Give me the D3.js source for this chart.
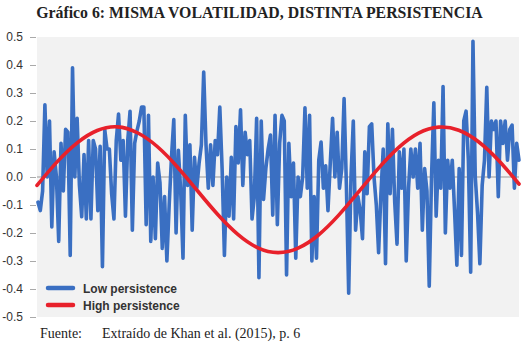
<!DOCTYPE html>
<html>
<head>
<meta charset="utf-8">
<script src="https://cdn.jsdelivr.net/npm/d3@7"></script>
<style>
  body { margin: 0; background: #fff; }
  svg { display: block; }
</style>
</head>
<body>
<div id="chart"></div>
<script>
// values
const yTicks = [0.5, 0.4, 0.3, 0.2, 0.1, 0.0, -0.1, -0.2, -0.3, -0.4, -0.5];

const lowPersistence = [
  -0.09, -0.12, -0.05, 0.258, 0.0, 0.2, -0.178, 0.09, 0.0, -0.23, 0.12, -0.05, 0.17, 0.16, -0.28, 0.39,
  0.0, 0.21, -0.03, -0.142, 0.08, -0.15, 0.13, -0.15, 0.13, 0.1, -0.12, 0.11, -0.32, 0.17, 0.1, 0.1,
  -0.06, -0.15, 0.13, 0.225, 0.06, 0.13, -0.14, 0.13, 0.235, -0.19, 0.12, 0.165, 0.2, 0.25, 0.25, -0.17,
  0.22, -0.23, 0.0, -0.22, 0.05, -0.02, -0.255, -0.07, -0.30, -0.1, 0.07, 0.205, -0.2, 0.095, -0.05, -0.29,
  0.22, -0.03, 0.115, -0.19, 0.07, -0.04, 0.05, 0.115, 0.375, 0.115, -0.04, 0.115, -0.03, 0.13, 0.08, 0.25,
  0.03, -0.28, 0.0, -0.14, 0.07, -0.15, 0.18, 0.05, 0.24, -0.03, 0.16, 0.08, 0.13, -0.15, -0.07, 0.21,
  -0.36, 0.2, -0.08, 0.03, 0.1, 0.15, -0.136, 0.22, -0.17, 0.12, 0.22, 0.2, -0.35, 0.12, -0.07, 0.05,
  -0.29, 0.0, -0.07, 0.0, 0.247, -0.04, 0.22, -0.3, -0.07, -0.29, 0.06, 0.125, -0.04, 0.04, -0.12, 0.05,
  0.21, 0.0, 0.16, -0.04, 0.03, 0.28, -0.03, -0.415, 0.0, 0.2, -0.19, -0.07, -0.12, -0.22, 0.09, -0.06,
  0.18, 0.19, 0.0, -0.1, -0.27, -0.06, 0.1, -0.31, 0.19, -0.06, 0.17, -0.09, -0.24, 0.09, -0.04, 0.1,
  -0.3, -0.04, 0.1, 0.0, 0.1, -0.04, 0.12, -0.19, 0.03, -0.05, -0.39, 0.0, 0.265, -0.14, 0.06, -0.04,
  0.323, -0.2, 0.06, -0.04, 0.06, -0.12, -0.315, 0.03, -0.28, 0.2, 0.235, 0.06, -0.34, 0.485, 0.0, -0.13,
  -0.31, -0.03, 0.06, 0.32, 0.0, 0.2, 0.17, 0.2, -0.07, 0.2, 0.12, 0.2, 0.06, 0.17, 0.185, -0.04,
  0.12, 0.06
];

const highPersistence = [
  -0.03, 0.054, 0.122, 0.166, 0.179, 0.158, 0.108, 0.035, -0.05, -0.134, -0.205, -0.253, -0.27,
  -0.254, -0.208, -0.138, -0.054, 0.031, 0.105, 0.157, 0.178, 0.167, 0.125, 0.058, -0.025
];

const seriesNames = ['Low persistence', 'High persistence'];
const seriesColors = ['#3a6fc2', '#e8212b'];

const W = 525, H = 361;
const plot = { left: 37, right: 519, top: 37, bottom: 317 };

const svg = d3.select('#chart').append('svg')
  .attr('width', W).attr('height', H);

// Title
svg.append('text')
  .attr('x', 259.5).attr('y', 17.5)
  .attr('text-anchor', 'middle')
  .attr('font-family', '"Liberation Serif", "Times New Roman", serif')
  .attr('font-weight', 'bold').attr('font-size', '15.8px').attr('fill', '#222')
  .text('Gráfico 6: MISMA VOLATILIDAD, DISTINTA PERSISTENCIA');

// Plot background
svg.append('rect')
  .attr('x', plot.left).attr('y', plot.top)
  .attr('width', plot.right - plot.left).attr('height', plot.bottom - plot.top)
  .attr('fill', '#f2f2f2');

const y = d3.scaleLinear().domain([-0.5, 0.5]).range([plot.bottom, plot.top]);
const xLow = d3.scaleLinear().domain([0, lowPersistence.length - 1]).range([plot.left + 1, plot.right]);
const xHigh = d3.scaleLinear().domain([0, highPersistence.length - 1]).range([plot.left, plot.right]);

// Y axis
const yAxis = d3.axisLeft(y)
  .tickValues(yTicks)
  .tickSize(6)
  .tickPadding(7)
  .tickFormat(d => d.toFixed(1));

const ax = svg.append('g')
  .attr('transform', `translate(${plot.left - 1},0)`)
  .call(yAxis);
ax.select('.domain').remove();
ax.selectAll('line').attr('stroke', '#aaa');
ax.selectAll('text')
  .attr('font-family', '"Liberation Sans", Arial, sans-serif')
  .attr('font-size', '12px').attr('fill', '#333');

// zero line
svg.append('line')
  .attr('x1', plot.left).attr('x2', plot.right)
  .attr('y1', y(0)).attr('y2', y(0))
  .attr('stroke', '#999').attr('stroke-width', 1);

// Low persistence series
const lineLow = d3.line()
  .x((d, i) => xLow(i))
  .y(d => y(d));

svg.append('path')
  .datum(lowPersistence)
  .attr('d', lineLow)
  .attr('fill', 'none')
  .attr('stroke', seriesColors[0])
  .attr('stroke-width', 3.6)
  .attr('stroke-linejoin', 'round')
  .attr('stroke-linecap', 'round');

// High persistence series
const lineHigh = d3.line()
  .x((d, i) => xHigh(i))
  .y(d => y(d))
  .curve(d3.curveNatural);

svg.append('path')
  .datum(highPersistence)
  .attr('d', lineHigh)
  .attr('fill', 'none')
  .attr('stroke', seriesColors[1])
  .attr('stroke-width', 3.6)
  .attr('stroke-linecap', 'round');

// Legend
const legend = svg.append('g').attr('transform', 'translate(48, 288)');
seriesNames.forEach((name, i) => {
  const row = legend.append('g').attr('transform', `translate(0, ${i * 17})`);
  row.append('line')
    .attr('x1', 0).attr('x2', 25).attr('y1', 0).attr('y2', 0)
    .attr('stroke', seriesColors[i]).attr('stroke-width', 4.5)
    .attr('stroke-linecap', 'round');
  row.append('text')
    .attr('x', 35).attr('y', 4.5)
    .attr('font-family', '"Liberation Sans", Arial, sans-serif')
    .attr('font-weight', 'bold').attr('font-size', '12px').attr('fill', '#333')
    .text(name);
});

// Source
const src = svg.append('g')
  .attr('font-family', '"Liberation Serif", "Times New Roman", serif')
  .attr('font-size', '14px').attr('fill', '#222');
src.append('text').attr('x', 40).attr('y', 338).text('Fuente:');
src.append('text').attr('x', 102).attr('y', 338).text('Extraído de Khan et al. (2015), p. 6');
</script>
</body>
</html>
